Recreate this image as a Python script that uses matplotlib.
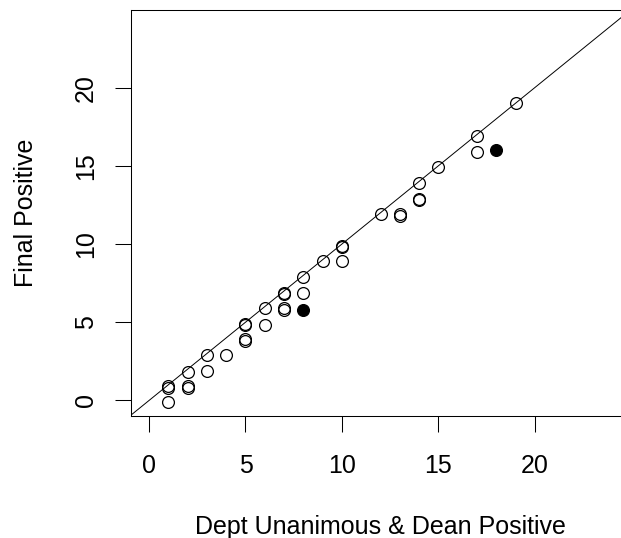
import matplotlib
matplotlib.use("Agg")
import matplotlib.pyplot as plt
import numpy as np

plt.rcParams['font.family'] = ['Liberation Sans', 'DejaVu Sans']

# ------------------ DATA ------------------
x_open = [1, 1, 1, 2, 2, 2, 3, 3, 4, 5, 5, 5, 5, 6, 6, 7, 7, 7, 7, 8, 8, 9,
          10, 10, 10, 12, 13, 13, 14, 14, 14, 15, 17, 17, 19]
y_open = [0.8, 0.9, -0.1, 0.8, 0.9, 1.8, 1.9, 2.9, 2.9, 4.9, 4.8, 3.9, 3.8,
          4.8, 5.9, 6.9, 6.8, 5.9, 5.8, 6.9, 7.9, 8.9, 9.9, 9.8, 8.9, 11.9,
          11.9, 11.8, 13.9, 12.9, 12.8, 14.9, 16.9, 15.9, 19.0]

x_filled = [8, 18]
y_filled = [5.8, 16.0]

x_ticks = [0, 5, 10, 15, 20]
y_ticks = [0, 5, 10, 15, 20]

# ------------------ PLOT ------------------
W, H = 621, 538
fig = plt.figure(figsize=(W / 100, H / 100), dpi=100)
# plot box runs past the right edge of the picture, like the reference
ax = fig.add_axes([130.5 / W, (H - 415.5) / H, 500 / W, 405.5 / H])

ax.plot(x_open, y_open, 'o', ms=8.5, mfc='none', mec='black', mew=0.9)
ax.plot(x_filled, y_filled, 'o', ms=8.5, mfc='black', mec='black', mew=0.9)
ax.axline((0, 0), slope=1, color='black', lw=0.7)

ax.set_xlim(-0.96, 24.96)
ax.set_ylim(-0.96, 24.96)
ax.set_xticks(x_ticks)
ax.set_yticks(y_ticks)
ax.set_yticklabels([str(v) for v in y_ticks], rotation=90, va='center')

ax.tick_params(direction='out', length=11.5, width=0.75, labelsize=18,
               color='black')
ax.tick_params(axis='x', pad=16)
ax.tick_params(axis='y', pad=12)
for s in ax.spines.values():
    s.set_linewidth(0.75)

ax.set_xlabel("Dept Unanimous & Dean Positive", fontsize=18, labelpad=27)
ax.set_ylabel("Final Positive", fontsize=18, labelpad=26)

plt.savefig("out.png", dpi=100)
plt.close()
